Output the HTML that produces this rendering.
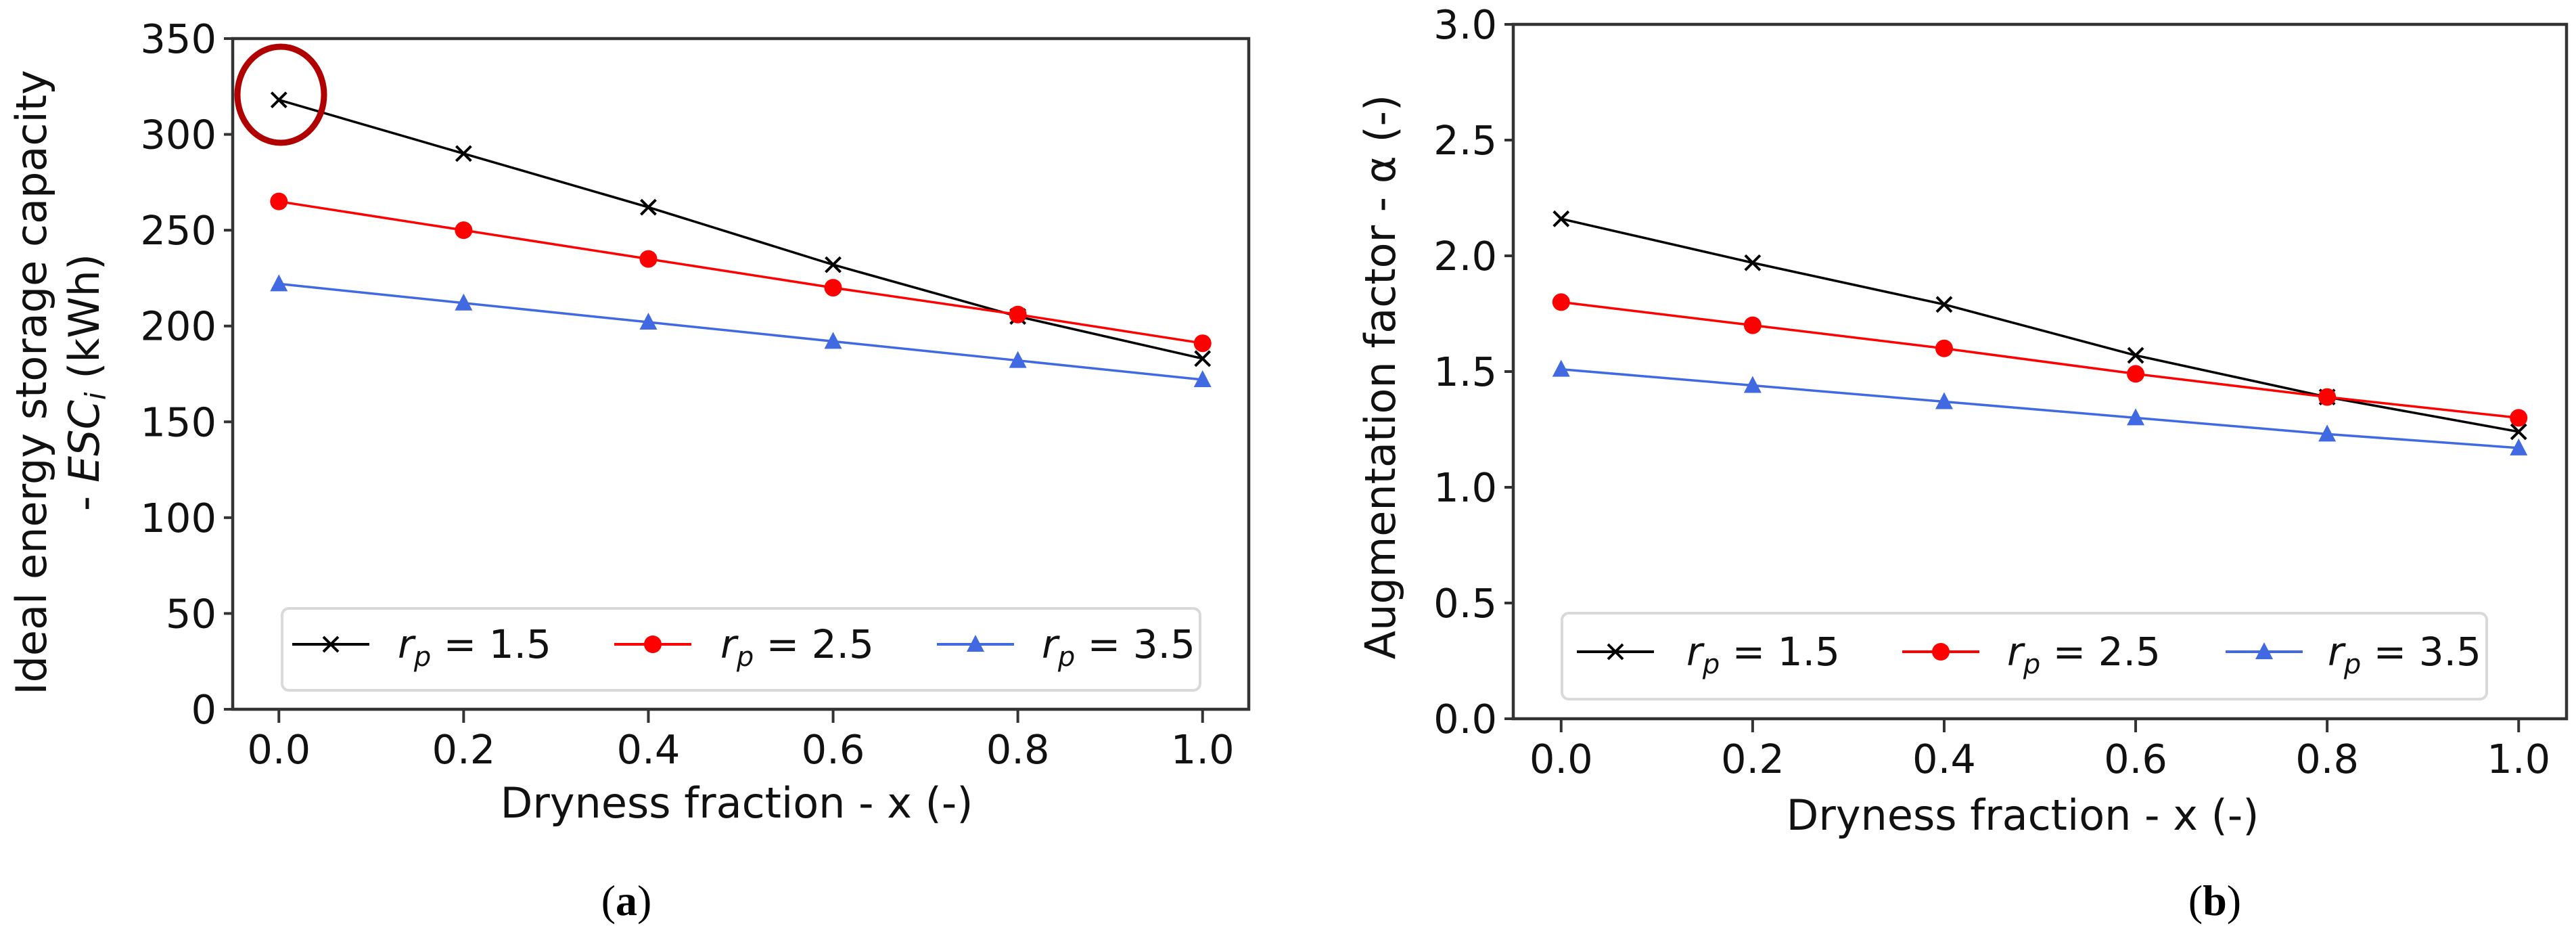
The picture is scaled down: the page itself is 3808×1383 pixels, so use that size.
<!DOCTYPE html>
<html><head><meta charset="utf-8"><style>
html,body{margin:0;padding:0;background:#fff;}
svg{display:block;font-family:"DejaVu Sans","Liberation Sans",sans-serif;}
</style></head><body>
<svg id="fig" width="3808" height="1383" viewBox="0 0 3808 1383" xmlns="http://www.w3.org/2000/svg">
<rect width="3808" height="1383" fill="#fff"/>
<g id="pa"></g>
<g id="pb"></g>
</svg>
<script>
const xCats = [0.0, 0.2, 0.4, 0.6, 0.8, 1.0];
const xTickLabels = ["0.0","0.2","0.4","0.6","0.8","1.0"];
const escBlack = [318, 290, 262, 232, 205, 183];
const escRed = [265, 250, 235, 220, 206, 191];
const escBlue = [222, 212, 202, 192, 182, 172];
const escTicks = [0, 50, 100, 150, 200, 250, 300, 350];
const escTickLabels = ["0","50","100","150","200","250","300","350"];
const alphaBlack = [2.16, 1.97, 1.79, 1.57, 1.39, 1.24];
const alphaRed = [1.80, 1.70, 1.60, 1.49, 1.39, 1.30];
const alphaBlue = [1.51, 1.44, 1.37, 1.30, 1.23, 1.17];
const alphaTicks = [0, 0.5, 1.0, 1.5, 2.0, 2.5, 3.0];
const alphaTickLabels = ["0.0","0.5","1.0","1.5","2.0","2.5","3.0"];
const seriesNames = ["1.5", "2.5", "3.5"];

const NS = "http://www.w3.org/2000/svg";
function mk(parent, tag, attrs, text) {
  const e = document.createElementNS(NS, tag);
  for (const k in attrs) e.setAttribute(k, attrs[k]);
  if (text !== undefined) e.textContent = text;
  parent.appendChild(e);
  return e;
}
function marker(g, kind, cx, cy, color) {
  let m;
  if (kind === 'x') {
    m = mk(g, 'path', {d:`M${cx-11},${cy-11}L${cx+11},${cy+11}M${cx-11},${cy+11}L${cx+11},${cy-11}`, stroke:color, 'stroke-width':4, fill:'none'});
  } else if (kind === 'o') {
    m = mk(g, 'circle', {cx:cx, cy:cy, r:13, fill:color});
  } else {
    m = mk(g, 'path', {d:`M${cx},${cy-14}L${cx+13},${cy+11}L${cx-13},${cy+11}Z`, fill:color});
  }
  return m;
}

function panel(g, cfg) {
  const X = v => cfg.x0 + (v - (-0.05)) / 1.1 * (cfg.x1 - cfg.x0);
  const Y = v => cfg.y1 - (v - cfg.ymin) / (cfg.ymax - cfg.ymin) * (cfg.y1 - cfg.y0);
  // y ticks
  cfg.yTicks.forEach((t, i) => {
    const y = Y(t);
    const tk = mk(g, 'line', {x1:cfg.x0-13, x2:cfg.x0, y1:y, y2:y, stroke:'#333', 'stroke-width':4});
    
    
    const tl = mk(g, 'text', {x:cfg.x0-24, y:y+21, 'font-size':59, 'text-anchor':'end', fill:'#111'}, cfg.yLabels[i]);
    
    
  });
  xCats.forEach((t, i) => {
    const x = X(t);
    const tk = mk(g, 'line', {x1:x, x2:x, y1:cfg.y1, y2:cfg.y1+20, stroke:'#333', 'stroke-width':4});
    
    
    const tl = mk(g, 'text', {x:x, y:cfg.y1+80, 'font-size':59, 'text-anchor':'middle', fill:'#111'}, xTickLabels[i]);
    
    
  });
  // series
  const defs = [[cfg.s[0], '#000', 'x'], [cfg.s[1], '#ff0000', 'o'], [cfg.s[2], '#4169e1', '^']];
  defs.forEach((d, si) => {
    const sg = mk(g, 'g', {});
    
    
    const pts = d[0].map((v, i) => X(xCats[i]) + ',' + Y(v)).join(' ');
    const pl = mk(sg, 'polyline', {points:pts, fill:'none', stroke:d[1], 'stroke-width':3.5});
    
    
    d[0].forEach((v, i) => {
      const m = marker(sg, d[2], X(xCats[i]), Y(v), d[1]);
      
      
    });
  });
  // frame
  const fr = mk(g, 'rect', {x:cfg.x0, y:cfg.y0, width:cfg.x1-cfg.x0, height:cfg.y1-cfg.y0, fill:'none', stroke:'#333', 'stroke-width':4.5});
  
  
  // legend
  const L = cfg.leg;
  const lg = mk(g, 'g', {});
  
  
  mk(lg, 'rect', {x:L.x, y:L.y, width:L.w, height:L.h, rx:10, fill:'#fff', stroke:'#d9d9d9', 'stroke-width':4});
  defs.forEach((d, si) => {
    const e = mk(lg, 'g', {});
    
    
    const lx = L.lines[si];
    mk(e, 'line', {x1:lx, x2:lx+114, y1:L.ly, y2:L.ly, stroke:d[1], 'stroke-width':4});
    marker(e, d[2], lx+57, L.ly, d[1]);
    const t = mk(e, 'text', {x:L.texts[si], y:L.ly+20, 'font-size':58, fill:'#111'});
    const a = mk(t, 'tspan', {'font-style':'italic'}, 'r');
    const b = mk(t, 'tspan', {'font-style':'italic', 'font-size':40, dy:12}, 'p');
    const c = mk(t, 'tspan', {dy:-12}, ' = ' + seriesNames[si]);
  });
}

const pa = document.getElementById('pa');
panel(pa, {x0:344, x1:1846, y0:57, y1:1048, ymin:0, ymax:350, yTicks:escTicks, yLabels:escTickLabels,
  s:[escBlack, escRed, escBlue],
  leg:{x:417, y:899, w:1357, h:121, ly:952, lines:[432, 908, 1385], texts:[588, 1065, 1540]}});
const pb = document.getElementById('pb');
panel(pb, {x0:2237, x1:3794, y0:36, y1:1062, ymin:0, ymax:3, yTicks:alphaTicks, yLabels:alphaTickLabels,
  s:[alphaBlack, alphaRed, alphaBlue],
  leg:{x:2309, y:906, w:1367, h:127, ly:963, lines:[2331, 2812, 3290], texts:[2493, 2967, 3441]}});

// red highlight circle
const hc = mk(pa, 'ellipse', {cx:415, cy:140, rx:64, ry:71, fill:'none', stroke:'#b00000', 'stroke-width':9});



// axis titles
let t;
t = mk(pa, 'text', {x:0, y:0, 'font-size':62, 'text-anchor':'middle', fill:'#111', transform:'translate(68,565) rotate(-90)'}, 'Ideal energy storage capacity');
 
t = mk(pa, 'text', {x:0, y:0, 'font-size':62, 'text-anchor':'middle', fill:'#111', transform:'translate(146,565) rotate(-90)'});
 
mk(t, 'tspan', {}, '- ');
mk(t, 'tspan', {'font-style':'italic'}, 'ESC');
mk(t, 'tspan', {'font-style':'italic', 'font-size':42, dy:10}, 'i');
mk(t, 'tspan', {dy:-10}, ' (kWh)');
t = mk(pa, 'text', {x:1089, y:1208, 'font-size':62, 'text-anchor':'middle', fill:'#111'}, 'Dryness fraction - x (-)');
 
t = mk(pb, 'text', {x:0, y:0, 'font-size':62, 'text-anchor':'middle', fill:'#111', transform:'translate(2062,557) rotate(-90)'}, 'Augmentation factor - α (-)');
 
t = mk(pb, 'text', {x:2990, y:1226, 'font-size':62, 'text-anchor':'middle', fill:'#111'}, 'Dryness fraction - x (-)');
 

// captions
t = mk(pa, 'text', {x:926, y:1352, 'font-size':64, 'text-anchor':'middle', fill:'#000', 'font-family':'"Liberation Serif", serif'});
 
mk(t, 'tspan', {}, '(');
mk(t, 'tspan', {'font-weight':'bold'}, 'a');
mk(t, 'tspan', {}, ')');
t = mk(pb, 'text', {x:3274, y:1352, 'font-size':64, 'text-anchor':'middle', fill:'#000', 'font-family':'"Liberation Serif", serif'});
 
mk(t, 'tspan', {}, '(');
mk(t, 'tspan', {'font-weight':'bold'}, 'b');
mk(t, 'tspan', {}, ')');
</script>
</body></html>
